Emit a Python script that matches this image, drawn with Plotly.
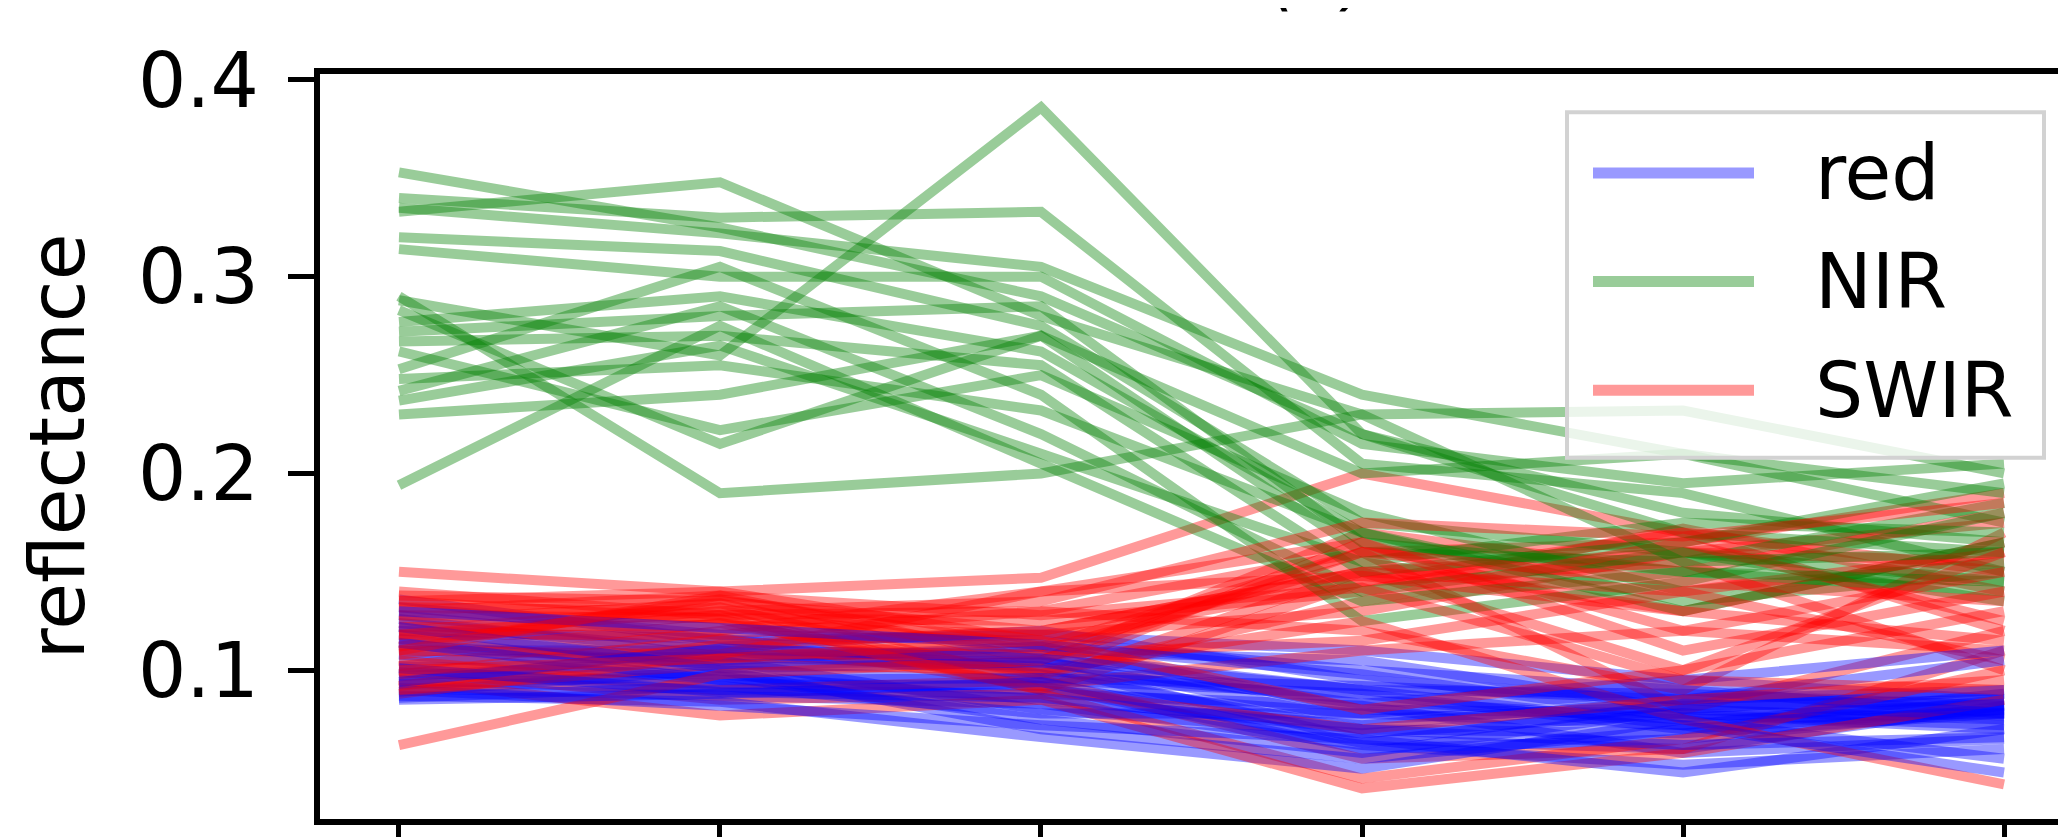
import plotly.graph_objects as go

# x positions (band samples) and tick values
x_positions = [0, 1, 2, 3, 4, 5]
y_ticks = [0.1, 0.2, 0.3, 0.4]
y_tick_labels = ["0.1", "0.2", "0.3", "0.4"]

# "red" band reflectance (drawn in blue)
red_band = [
    [0.136, 0.115, 0.118, 0.110, 0.095, 0.085],
    [0.132, 0.118, 0.115, 0.100, 0.090, 0.080],
    [0.128, 0.112, 0.120, 0.095, 0.085, 0.090],
    [0.126, 0.107, 0.110, 0.105, 0.080, 0.075],
    [0.124, 0.110, 0.108, 0.090, 0.088, 0.082],
    [0.120, 0.116, 0.100, 0.085, 0.075, 0.078],
    [0.118, 0.105, 0.112, 0.080, 0.078, 0.070],
    [0.116, 0.100, 0.095, 0.088, 0.070, 0.080],
    [0.113, 0.103, 0.105, 0.075, 0.082, 0.085],
    [0.110, 0.110, 0.098, 0.070, 0.068, 0.078],
    [0.108, 0.095, 0.090, 0.078, 0.072, 0.088],
    [0.105, 0.107, 0.102, 0.065, 0.060, 0.082],
    [0.102, 0.098, 0.085, 0.072, 0.085, 0.075],
    [0.099, 0.093, 0.092, 0.060, 0.065, 0.080],
    [0.097, 0.105, 0.080, 0.068, 0.078, 0.072],
    [0.095, 0.090, 0.088, 0.082, 0.058, 0.065],
    [0.093, 0.097, 0.075, 0.058, 0.080, 0.090],
    [0.091, 0.087, 0.083, 0.062, 0.052, 0.060],
    [0.089, 0.100, 0.070, 0.055, 0.070, 0.085],
    [0.087, 0.084, 0.066, 0.050, 0.075, 0.055],
    [0.086, 0.092, 0.078, 0.078, 0.090, 0.078],
    [0.090, 0.082, 0.072, 0.065, 0.048, 0.070],
    [0.114, 0.095, 0.096, 0.092, 0.085, 0.105],
    [0.122, 0.101, 0.104, 0.083, 0.095, 0.110],
    [0.094, 0.111, 0.106, 0.090, 0.072, 0.048],
    [0.101, 0.089, 0.086, 0.070, 0.062, 0.066],
    [0.130, 0.121, 0.113, 0.098, 0.076, 0.083],
    [0.085, 0.088, 0.094, 0.063, 0.083, 0.077],
]

# NIR reflectance (drawn in green)
nir_band = [
    [0.353, 0.325, 0.290, 0.220, 0.180, 0.165],
    [0.340, 0.330, 0.333, 0.205, 0.190, 0.150],
    [0.335, 0.322, 0.305, 0.240, 0.210, 0.175],
    [0.333, 0.348, 0.280, 0.230, 0.232, 0.200],
    [0.320, 0.313, 0.275, 0.175, 0.160, 0.145],
    [0.314, 0.300, 0.300, 0.215, 0.195, 0.205],
    [0.288, 0.260, 0.386, 0.220, 0.170, 0.160],
    [0.283, 0.215, 0.270, 0.160, 0.155, 0.185],
    [0.277, 0.290, 0.262, 0.170, 0.135, 0.150],
    [0.272, 0.280, 0.285, 0.165, 0.150, 0.140],
    [0.267, 0.270, 0.255, 0.150, 0.165, 0.195],
    [0.262, 0.222, 0.250, 0.180, 0.140, 0.155],
    [0.253, 0.305, 0.240, 0.125, 0.145, 0.180],
    [0.248, 0.255, 0.232, 0.170, 0.130, 0.165],
    [0.242, 0.285, 0.220, 0.140, 0.160, 0.135],
    [0.237, 0.265, 0.210, 0.155, 0.175, 0.170],
    [0.230, 0.240, 0.270, 0.200, 0.210, 0.190],
    [0.194, 0.275, 0.205, 0.135, 0.150, 0.145],
    [0.290, 0.190, 0.200, 0.230, 0.155, 0.160],
]

# SWIR reflectance (drawn in red)
swir_band = [
    [0.150, 0.140, 0.147, 0.200, 0.170, 0.120],
    [0.140, 0.128, 0.130, 0.160, 0.165, 0.190],
    [0.138, 0.135, 0.120, 0.150, 0.160, 0.175],
    [0.135, 0.140, 0.115, 0.145, 0.170, 0.150],
    [0.132, 0.130, 0.110, 0.155, 0.130, 0.165],
    [0.130, 0.138, 0.105, 0.170, 0.150, 0.180],
    [0.128, 0.126, 0.125, 0.140, 0.172, 0.140],
    [0.125, 0.134, 0.100, 0.165, 0.120, 0.110],
    [0.122, 0.123, 0.118, 0.130, 0.160, 0.155],
    [0.120, 0.132, 0.095, 0.150, 0.100, 0.130],
    [0.118, 0.118, 0.130, 0.120, 0.090, 0.170],
    [0.115, 0.128, 0.090, 0.145, 0.155, 0.100],
    [0.112, 0.136, 0.112, 0.160, 0.080, 0.120],
    [0.110, 0.108, 0.108, 0.115, 0.140, 0.160],
    [0.108, 0.124, 0.098, 0.135, 0.165, 0.125],
    [0.105, 0.090, 0.095, 0.055, 0.060, 0.110],
    [0.102, 0.120, 0.140, 0.165, 0.110, 0.140],
    [0.100, 0.085, 0.088, 0.045, 0.065, 0.100],
    [0.098, 0.116, 0.092, 0.110, 0.120, 0.150],
    [0.095, 0.077, 0.085, 0.040, 0.058, 0.085],
    [0.092, 0.113, 0.120, 0.150, 0.140, 0.105],
    [0.090, 0.103, 0.100, 0.125, 0.075, 0.042],
    [0.088, 0.108, 0.140, 0.148, 0.130, 0.115],
    [0.062, 0.098, 0.105, 0.160, 0.145, 0.135],
    [0.135, 0.126, 0.090, 0.070, 0.085, 0.095],
    [0.118, 0.130, 0.135, 0.175, 0.168, 0.185],
    [0.110, 0.138, 0.128, 0.142, 0.095, 0.090],
    [0.100, 0.106, 0.115, 0.080, 0.100, 0.160],
]

series_names = ["red", "NIR", "SWIR"]
series_colors = ["rgba(0,0,255,0.4)", "rgba(0,128,0,0.4)", "rgba(255,0,0,0.4)"]
series_data = [red_band, nir_band, swir_band]

FONT = "DejaVu Sans"
FS = 76
LW = 10

fig = go.Figure()
n_max = max(len(s) for s in series_data)
for i in range(n_max):
    for name, color, data in zip(series_names, series_colors, series_data):
        if i < len(data):
            fig.add_trace(go.Scatter(
                x=x_positions, y=data[i], mode="lines",
                line=dict(color=color, width=LW),
                name=name, showlegend=False, hoverinfo="skip",
            ))

# Custom matplotlib-style legend (paper coords)
W, H = 2066, 837
L, R, T, B = 312, 0, 66, 10
pw, ph = W - L - R, H - T - B
def px(x):
    return (x - L) / pw
def py(y):
    return (H - B - y) / ph

shapes = [dict(type="rect", xref="paper", yref="paper",
               x0=px(1559), x1=px(2036), y0=py(458), y1=py(105),
               fillcolor="rgba(255,255,255,0.8)",
               line=dict(color="rgb(210,210,210)", width=4), layer="above")]
annotations = []
legend_rows = [167, 278, 389]
for name, color, yy in zip(series_names, series_colors, legend_rows):
    shapes.append(dict(type="line", xref="paper", yref="paper",
                       x0=px(1585), x1=px(1746), y0=py(yy), y1=py(yy),
                       line=dict(color=color, width=11), layer="above"))
    annotations.append(dict(xref="paper", yref="paper", x=px(1805), y=py(yy),
                            text=name, showarrow=False, xanchor="left", yanchor="middle",
                            font=dict(family=FONT, size=FS, color="black")))

# partially visible title at top (mostly cut off by the top edge, as in the reference)
annotations.append(dict(xref="paper", yref="paper", x=px(1313), y=py(12),
                        text="(b)", showarrow=False, xanchor="center", yanchor="bottom",
                        font=dict(family=FONT, size=72, color="black", style="italic")))

fig.update_layout(
    width=W, height=H, autosize=False,
    margin=dict(l=L, r=R, t=T, b=B, pad=0),
    paper_bgcolor="white", plot_bgcolor="white",
    showlegend=False,
    shapes=shapes, annotations=annotations,
    font=dict(family=FONT, size=FS, color="black"),
)
fig.update_xaxes(
    range=[-0.246, 5.218], tickvals=x_positions, showticklabels=False,
    ticks="outside", ticklen=26, tickwidth=5, tickcolor="black",
    showline=True, linewidth=6, linecolor="black", mirror=True,
    showgrid=False, zeroline=False,
)
fig.update_yaxes(
    range=[0.0244, 0.403], tickvals=y_ticks, ticktext=y_tick_labels,
    ticks="outside", ticklen=26, tickwidth=5, tickcolor="black",
    tickfont=dict(family=FONT, size=FS, color="black"),
    ticklabelstandoff=14,
    showline=True, linewidth=6, linecolor="black",
    showgrid=False, zeroline=False,
    title=dict(text="reflectance", font=dict(family=FONT, size=FS, color="black"), standoff=30),
)

fig.write_html("out.html")
